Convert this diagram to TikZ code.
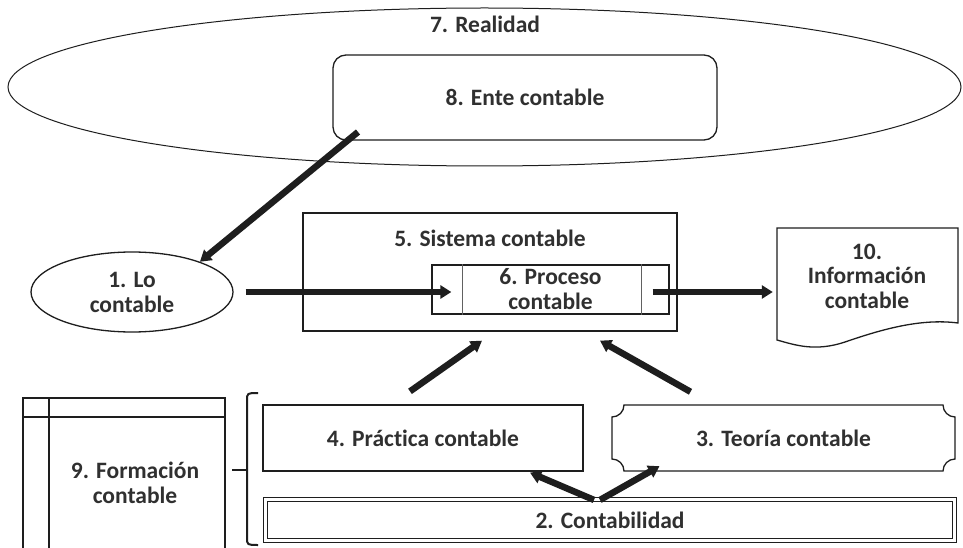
\documentclass[tikz,border=0pt]{standalone}
\usepackage{fontspec}
\setmainfont{Carlito}[Ligatures={NoCommon,NoRare,NoDiscretionary}]
\usetikzlibrary{shapes.geometric,arrows.meta}
\definecolor{txt}{HTML}{303030}
\definecolor{ln}{HTML}{1E1E1E}
\tikzset{
  lbl/.style={font=\fontsize{23.5}{25}\selectfont\bfseries, text=txt, align=center, inner sep=0pt},
  shp/.style={draw=ln, line width=1.3pt},
  arr/.style={draw=ln, line width=5.5pt, -{Triangle[length=11pt,width=13pt]}},
}
\begin{document}
\begin{tikzpicture}[x=1pt,y=-1pt]
\useasboundingbox[fill=white] (0,0) rectangle (963,548);
% 7 Realidad
\node[shp, line width=1pt, ellipse, minimum width=953pt, minimum height=158pt, inner sep=0pt] (n7) at (484.5,87) {};
\node[lbl] (t7) at (485,24) {7. Realidad};
% 8 Ente contable
\node[shp, rounded corners=13pt, minimum width=384pt, minimum height=85pt, lbl] (n8) at (525,97.5) {8. Ente contable};
% 1 Lo contable
\node[shp, ellipse, minimum width=202pt, minimum height=80pt, lbl] (n1) at (132,292) {1. Lo\\contable};
% 5 Sistema contable
\node[shp, minimum width=374pt, minimum height=118pt, inner sep=0pt] (n5) at (490,272) {};
\node[lbl] (t5) at (490,238) {5. Sistema contable};
% 6 Proceso contable
\node[shp, minimum width=237pt, minimum height=49pt, lbl] (n6) at (550.5,289.5) {6. Proceso\\contable};
\draw[shp, line width=1pt, draw=ln!70] ([xshift=31pt]n6.north west) -- ([xshift=31pt]n6.south west);
\draw[shp, line width=1pt, draw=ln!70] ([xshift=-28pt]n6.north east) -- ([xshift=-28pt]n6.south east);
% 10 Informacion contable (document)
\draw[shp] (777,228) -- (958,228) -- (958,323)
  .. controls (920,318) and (880,330) .. (845,342)
  .. controls (815,352) and (795,345) .. (777,340) -- cycle;
\node[lbl, text width=170pt] (n10) at (867,276) {10.\\[-0.5pt]Información\\[-0.5pt]contable};
% 9 Formacion contable
\draw[shp] (23,548) -- (23,398) -- (225,398) -- (225,548);
\draw[shp] (23,417) -- (225,417);
\draw[shp] (49,398) -- (49,548);
\node[lbl] (n9) at (135,483) {9. Formación\\contable};
% brace
\draw[draw=ln, line width=2pt] (258,393) .. controls (247,393) .. (247,401) -- (247,537) .. controls (247,545) .. (258,545);
\draw[draw=ln, line width=2pt] (232,470) -- (247,470);
% 4 Practica contable
\node[shp, minimum width=320pt, minimum height=66pt, lbl] (n4) at (423,438) {4. Práctica contable};
% 3 Teoria contable (plaque)
\draw[shp] (624,405) -- (943,405) .. controls (943,411.6) and (948.4,417) .. (955,417)
  -- (955,459) .. controls (948.4,459) and (943,464.4) .. (943,471)
  -- (624,471) .. controls (624,464.4) and (618.6,459) .. (612,459)
  -- (612,417) .. controls (618.6,417) and (624,411.6) .. (624,405) -- cycle;
\node[lbl, minimum width=343pt, minimum height=66pt] (n3) at (783.5,438) {3. Teoría contable};
% 2 Contabilidad
\node[draw=ln, line width=1.1pt, double, double distance=3.4pt, minimum width=689pt, minimum height=41pt, lbl] (n2) at (610,520) {2. Contabilidad};
% connectors
\coordinate (s8) at (358,132);
\draw[arr, line width=6.5pt] (s8) -- (n1.24);
\draw[arr, shorten <=12pt, shorten >=-20pt] (n1.east) -- (n1.east -| n6.west);
\draw[arr, shorten <=-17pt, shorten >=9pt] (n6.east |- n1.east) -- (n1.east -| n10.west);
\draw[arr, line width=6.5pt] ([xshift=-13pt,yshift=13pt]n4.north) -- ([xshift=-8pt,yshift=-9pt]n5.south);
\draw[arr, line width=6.5pt] ([xshift=-93pt,yshift=13pt]n3.north) -- ([xshift=110pt,yshift=-9pt]n5.south);
\draw[arr, line width=6.5pt] ([xshift=-16pt,yshift=-1pt]n2.north) -- ([xshift=107pt,yshift=-1pt]n4.south);
\draw[arr, line width=6.5pt] ([xshift=-10pt,yshift=-1pt]n2.north) -- ([xshift=-124pt,yshift=5pt]n3.south);
\end{tikzpicture}
\end{document}
